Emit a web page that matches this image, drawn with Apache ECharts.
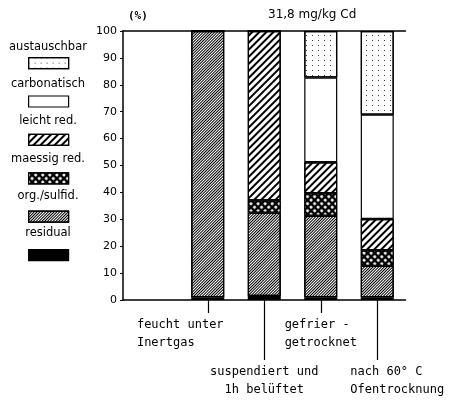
<!DOCTYPE html>
<html lang="de">
<head>
<meta charset="UTF-8" />
<title>Cd-Fraktionen</title>
<script src="https://cdn.jsdelivr.net/npm/echarts@6.0.0/dist/echarts.min.js"></script>
<style>
  html, body { margin: 0; padding: 0; background: #fff; }
  #chart { width: 458px; height: 401px; }
</style>
</head>
<body>
<div id="chart"></div>
<script>
// Proben (x-Achse); Leerzeichen halten die Zeilen linksbuendig
var categories = ["feucht unter\nInertgas    ", "suspendiert und\n1h belüftet", "gefrier - \ngetrocknet", "nach 60° C   \nOfentrocknung"];

// Anteile in % je Fraktion (von unten nach oben gestapelt)
var residual     = [1, 1.5, 1, 1];
var orgSulfid    = [99, 31, 30.3, 11.7];
var maessigRed   = [0, 4.5, 8.4, 5.8];
var leichtRed    = [0, 63, 11.5, 11.6];
var carbonatisch = [0, 0, 31.5, 38.8];
var austauschbar = [0, 0, 17.3, 31.1];

var fractionNames = ["residual", "org./sulfid.", "maessig red.", "leicht red.", "carbonatisch", "austauschbar"];
var fractionValues = [residual, orgSulfid, maessigRed, leichtRed, carbonatisch, austauschbar];

// Muster wie in der Vorlage
var fills = {
    "residual": { color: "#000" },
    "org./sulfid.": { color: "#fff", decal: { symbol: "rect", color: "#000", dashArrayX: [1, 0], dashArrayY: [1, 1], rotation: -Math.PI / 4, symbolSize: 1 } },
    "maessig red.": { color: "#000", decal: { symbol: "circle", color: "#fff", dashArrayX: [2.5, 1.5], dashArrayY: [2.5, 1.5], rotation: Math.PI / 4, symbolSize: 1 } },
    "leicht red.": { color: "#fff", decal: { symbol: "rect", color: "#000", dashArrayX: [1, 0], dashArrayY: [1.5, 2.5], rotation: -Math.PI / 4, symbolSize: 1 } },
    "carbonatisch": { color: "#fff" },
    "austauschbar": { color: "#fff", decal: { symbol: "rect", color: "#444", dashArrayX: [1, 5], dashArrayY: [1, 4], rotation: 0, symbolSize: 1 } }
};

// erste Kategorie leer, damit die Balken wie im Original rechts vom Achsenanfang stehen
var labelPadding = [[0, 55, 0, 0], 0, 0, [0, 0, 0, 40]];
var axisData = [{ value: "" }].concat(categories.map(function (c, i) {
    return { value: c, textStyle: { padding: labelPadding[i] } };
}));

var legendOrder = fractionNames.slice().reverse();

var series = fractionNames.map(function (name, i) {
    var st = fills[name];
    var itemStyle = { color: st.color, borderColor: "#000", borderWidth: 1.2 };
    if (st.decal) itemStyle.decal = st.decal;
    return {
        name: name,
        type: "bar",
        stack: "cd",
        xAxisIndex: 0,
        barWidth: 33,
        data: [null].concat(fractionValues[i]),
        itemStyle: itemStyle,
        emphasis: { disabled: true }
    };
});

var monoFont = "DejaVu Sans Mono";
var pick = function (list) { return function (i) { return list.indexOf(i) >= 0; }; };

// eine Kategorieachse; Striche und Beschriftungen werden auf getrennte Achsen verteilt
function xAxisPart(position, line, ticks, tickLen, labels, margin) {
    return {
        type: "category",
        data: axisData,
        position: position,
        axisLine: { show: true, onZero: false, lineStyle: line ? { color: "#000", width: 1.5 } : { color: "rgba(0,0,0,0)", width: 0 } },
        axisTick: ticks ? { show: true, alignWithLabel: true, interval: pick(ticks), length: tickLen, lineStyle: { color: "#000", width: 1.2 } } : { show: false },
        axisLabel: labels ? { show: true, interval: pick(labels), hideOverlap: false, margin: margin, color: "#000", fontFamily: monoFont, fontSize: 12, lineHeight: 18 } : { show: false },
        splitLine: { show: false }
    };
}

var chart = echarts.init(document.getElementById("chart"));
chart.setOption({
    animation: false,
    title: {
        text: "31,8 mg/kg Cd",
        left: 263,
        top: 4,
        textStyle: { fontFamily: "DejaVu Sans", fontSize: 12, fontWeight: "normal", color: "#000" }
    },
    grid: { left: 123, right: 52.5, top: 31, bottom: 101, containLabel: false, outerBoundsMode: "none" },
    legend: {
        orient: "vertical",
        left: 28,
        top: 57,
        padding: 0,
        itemWidth: 40,
        itemHeight: 11,
        itemGap: 26.2,
        icon: "rect",
        selectedMode: false,
        data: legendOrder,
        formatter: function () { return ""; },
        textStyle: { fontSize: 1 },
        itemStyle: { borderColor: "#000", borderWidth: 1.2 }
    },
    graphic: legendOrder.map(function (name, i) {
        return {
            type: "text",
            x: 48,
            y: 47 + i * 37.2,
            style: { text: name, align: "center", verticalAlign: "middle", font: '11.5px "DejaVu Sans"', fill: "#000" }
        };
    }),
    xAxis: [
        xAxisPart("bottom", true, [1, 3], 13, null, 0),
        xAxisPart("bottom", false, [2, 4], 60, null, 0),
        xAxisPart("bottom", false, null, 0, [1, 3], 16),
        xAxisPart("bottom", false, null, 0, [2], 63),
        xAxisPart("bottom", false, null, 0, [4], 63),
        xAxisPart("top", true, null, 0, null, 0)
    ],
    yAxis: {
        type: "value",
        min: 0,
        max: 100,
        interval: 10,
        name: "(%)",
        nameLocation: "end",
        nameGap: 9,
        nameTextStyle: { align: "left", padding: [0, 0, 0, 5], fontFamily: monoFont, fontSize: 11, fontWeight: "bold", color: "#000" },
        axisLine: { show: true, lineStyle: { color: "#000", width: 1.5 } },
        axisTick: { show: true, length: 3, lineStyle: { color: "#000" } },
        axisLabel: { margin: 6, color: "#000", fontFamily: "DejaVu Sans", fontSize: 11 },
        splitLine: { show: false }
    },
    series: series
});
</script>
</body>
</html>
